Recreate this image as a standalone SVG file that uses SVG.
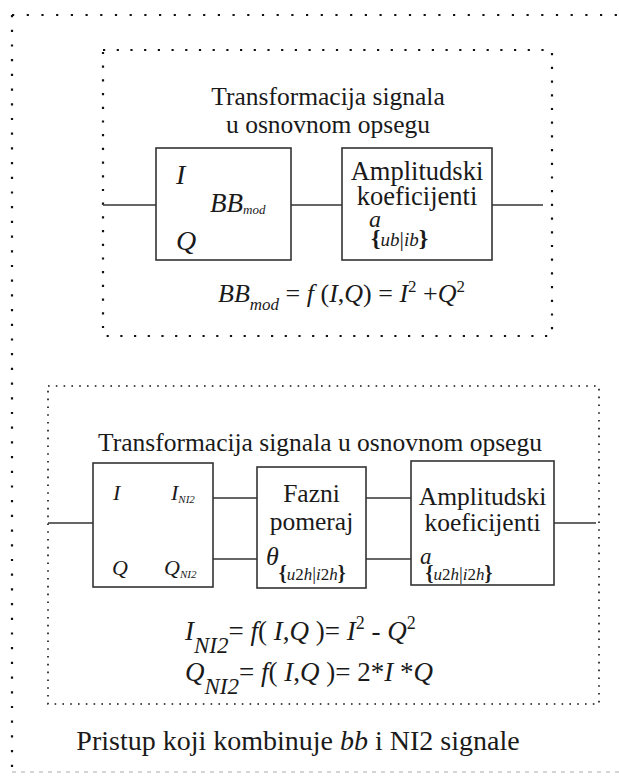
<svg xmlns="http://www.w3.org/2000/svg" width="619" height="778" viewBox="0 0 619 778">
<style>
text{fill:#1a1a1a}
.c{text-anchor:middle}
.i{font-style:italic}
.b{font-weight:bold}
.box{fill:none;stroke:#333;stroke-width:1.6}
.ln{fill:none;stroke:#333;stroke-width:1.6}
.dotO{fill:none;stroke:#111;stroke-width:2.2;stroke-dasharray:2.2 12.5}
.dotI{fill:none;stroke:#111;stroke-width:2.2;stroke-dasharray:2.2 11.5}
.dotL{fill:none;stroke:#111;stroke-width:1.6;stroke-dasharray:1.6 6.2}
.dash{fill:none;stroke:#aaa;stroke-width:1;stroke-dasharray:4 5}
</style>
<rect width="619" height="778" fill="#fff"/>
<g id="outer">
<path class="dotO" d="M12 15 H619"/>
<path class="dotO" d="M12 15 V772"/>
<path class="dash" d="M12 772 H619"/>
<text class="c" x="298" y="750" font-family="Liberation Serif" font-size="28">Pristup koji kombinuje <tspan class="i">bb</tspan> i NI2 signale</text>
</g>
<g id="bb-group">
<path class="dotI" d="M103 50 H552 V336 H103 Z"/>
<text class="c" x="328" y="105" font-family="Liberation Serif" font-size="25.5">Transformacija signala</text>
<text class="c" x="328" y="133" font-family="Liberation Serif" font-size="25.5">u osnovnom opsegu</text>
<text x="218" y="302" font-family="Liberation Serif" font-size="26"><tspan class="i">BB</tspan><tspan class="i" font-size="17" dy="8">mod</tspan><tspan dy="-8"> = </tspan><tspan class="i">f</tspan> (<tspan class="i">I</tspan>,<tspan class="i">Q</tspan>) = <tspan class="i">I</tspan><tspan font-size="17" dy="-10">2</tspan><tspan dy="10"> +</tspan><tspan class="i">Q</tspan><tspan font-size="17" dy="-10">2</tspan></text>
</g>
<g id="bbmod-block">
<rect class="box" x="156" y="148" width="135" height="112"/>
<text class="i" x="176" y="184" font-family="Liberation Serif" font-size="28">I</text>
<text class="i" x="210" y="212" font-family="Liberation Serif" font-size="27">BB<tspan font-size="13" dy="2">mod</tspan></text>
<text class="i" x="176" y="250" font-family="Liberation Serif" font-size="28">Q</text>
</g>
<g id="amp-block-top">
<rect class="box" x="342" y="148" width="150" height="112"/>
<text class="c" x="417" y="180" font-family="Liberation Serif" font-size="26.5">Amplitudski</text>
<text class="c" x="417" y="205" font-family="Liberation Serif" font-size="26.5">koeficijenti</text>
<text x="369" y="227" font-family="Liberation Serif"><tspan class="i" font-size="24">a</tspan><tspan dx="-10" dy="19" class="b" font-size="24">{</tspan><tspan class="i" font-size="19">ub</tspan><tspan font-size="22">|</tspan><tspan class="i" font-size="19">ib</tspan><tspan class="b" font-size="24">}</tspan></text>
</g>
<g id="ni2-group">
<path class="dotL" d="M48 386 H599 V704 H48 Z"/>
<text class="c" x="320" y="451" font-family="Liberation Serif" font-size="25.5">Transformacija signala u osnovnom opsegu</text>
<text x="185" y="640" font-family="Liberation Serif" font-size="27"><tspan class="i">I</tspan><tspan class="i" font-size="23" dy="13">NI2</tspan><tspan dy="-13">= </tspan><tspan class="i">f</tspan>( <tspan class="i">I</tspan>,<tspan class="i">Q</tspan> )= <tspan class="i">I</tspan><tspan font-size="18" dy="-11">2</tspan><tspan dy="11"> - </tspan><tspan class="i">Q</tspan><tspan font-size="18" dy="-11">2</tspan></text>
<text x="185" y="681" font-family="Liberation Serif" font-size="27"><tspan class="i">Q</tspan><tspan class="i" font-size="23" dy="13">NI2</tspan><tspan dy="-13">= </tspan><tspan class="i">f</tspan>( <tspan class="i">I</tspan>,<tspan class="i">Q</tspan> )= 2*<tspan class="i">I</tspan> *<tspan class="i">Q</tspan></text>
</g>
<g id="ni2-block">
<rect class="box" x="93" y="463" width="120" height="124"/>
<text class="i" x="113" y="500" font-family="Liberation Serif" font-size="22">I</text>
<text class="i" x="171" y="500" font-family="Liberation Serif" font-size="22">I<tspan font-size="11" dy="3">NI2</tspan></text>
<text class="i" x="112" y="575" font-family="Liberation Serif" font-size="22">Q</text>
<text class="i" x="164" y="575" font-family="Liberation Serif" font-size="22">Q<tspan font-size="11" dy="3">NI2</tspan></text>
</g>
<g id="phase-block">
<rect class="box" x="257" y="467" width="109" height="121"/>
<text class="c" x="311.5" y="502" font-family="Liberation Serif" font-size="25.5">Fazni</text>
<text class="c" x="311.5" y="530" font-family="Liberation Serif" font-size="25.5">pomeraj</text>
<text x="266" y="565" font-family="Liberation Serif"><tspan class="i" font-size="26">θ</tspan><tspan dy="15" class="b" font-size="20">{</tspan><tspan class="i" font-size="17">u</tspan><tspan font-size="17">2</tspan><tspan class="i" font-size="17">h</tspan><tspan font-size="19">|</tspan><tspan class="i" font-size="17">i</tspan><tspan font-size="17">2</tspan><tspan class="i" font-size="17">h</tspan><tspan class="b" font-size="20">}</tspan></text>
</g>
<g id="amp-block-bottom">
<rect class="box" x="411" y="461" width="143" height="124"/>
<text class="c" x="482.5" y="505" font-family="Liberation Serif" font-size="25.5">Amplitudski</text>
<text class="c" x="482.5" y="531" font-family="Liberation Serif" font-size="25.5">koeficijenti</text>
<text x="420" y="564" font-family="Liberation Serif"><tspan class="i" font-size="23">a</tspan><tspan dx="-6" dy="16" class="b" font-size="20">{</tspan><tspan class="i" font-size="17">u</tspan><tspan font-size="17">2</tspan><tspan class="i" font-size="17">h</tspan><tspan font-size="19">|</tspan><tspan class="i" font-size="17">i</tspan><tspan font-size="17">2</tspan><tspan class="i" font-size="17">h</tspan><tspan class="b" font-size="20">}</tspan></text>
</g>
<g id="connectors">
<path class="ln" d="M103 205 H156"/>
<path class="ln" d="M291 205 H342"/>
<path class="ln" d="M492 205 H543"/>
<path class="ln" d="M48 523 H93"/>
<path class="ln" d="M213 498 H257"/>
<path class="ln" d="M213 559 H257"/>
<path class="ln" d="M366 498 H411"/>
<path class="ln" d="M366 559 H411"/>
<path class="ln" d="M554 523 H596"/>
</g>
</svg>
